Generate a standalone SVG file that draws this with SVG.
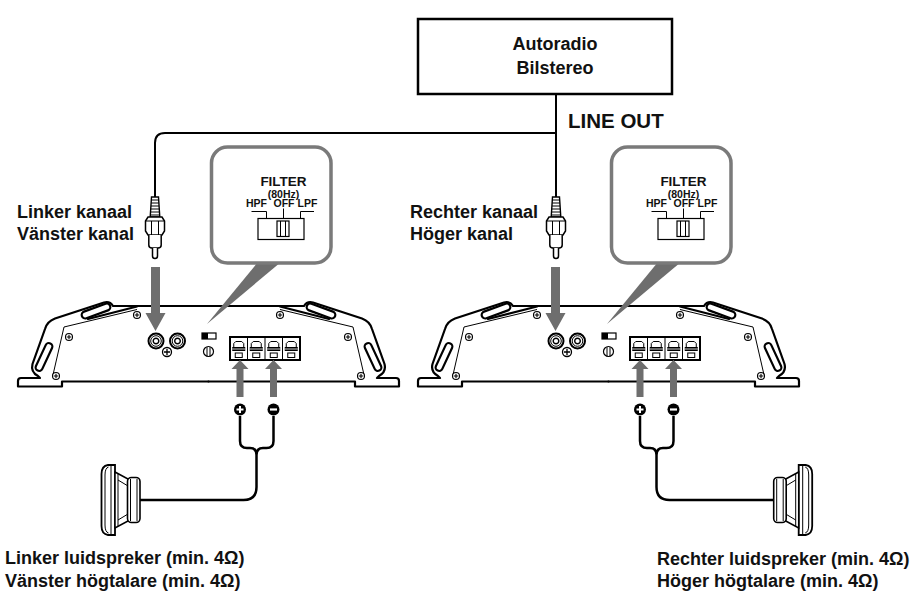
<svg xmlns="http://www.w3.org/2000/svg" xmlns:xlink="http://www.w3.org/1999/xlink" width="913" height="591" viewBox="0 0 913 591">
<style>
.k{fill:none;stroke:#000;stroke-width:2.2;stroke-linejoin:round;stroke-linecap:round}
.t{fill:none;stroke:#000;stroke-width:1}
.w{fill:none;stroke:#000;stroke-width:2.5;stroke-linejoin:round}
.c{fill:none;stroke:#000;stroke-width:2}
.g{fill:#6e6e6e}
.lbl{font-family:"Liberation Sans",Arial,sans-serif;font-weight:bold;font-size:18px;fill:#111}
.big{font-size:20.5px}
.f{font-family:"Liberation Sans",Arial,sans-serif;font-weight:bold;fill:#111;text-anchor:middle}
.cb{fill:#fff;stroke:#7a7a7a;stroke-width:3.5}
</style>
<defs>
<g id="scr"><circle r="3.5" fill="#fff" stroke="#000" stroke-width="1.1"/><path d="M-2.3,0H2.3M0,-2.3V2.3" stroke="#000" stroke-width="1.1"/></g>
<g id="jack"><circle r="7.5" fill="#fff" stroke="#000" stroke-width="2"/><circle r="5.3" class="t"/><circle r="2.8" fill="none" stroke="#000" stroke-width="1.4"/></g>
<g id="term">
<path d="M-5,347 V343.5 L-3,341.5 H3 L5,343.5 V347" class="t"/>
<rect x="-6.5" y="347" width="13" height="4" fill="#000"/>
<line x1="-6.5" y1="349" x2="6.5" y2="349" stroke="#fff" stroke-width="0.8"/>
<rect x="-3.5" y="353" width="7" height="4.5" class="t"/>
</g>
<g id="amp-half">
<path class="k" fill="#fff" d="M208.5,306 H113 Q110,301 104,302.5 L55,318.5 Q47,321.5 45,329 L32.5,364 Q30.5,372 38,376 L40,378 H21 Q18,378 18,381 V386.5 H62 V381.5 H208.5"/>
<path class="k" d="M137,306.5 L88,319"/>
<rect x="81" y="307.5" width="30" height="7" rx="3.5" class="k" transform="rotate(-20 96 311)"/>
<rect x="29" y="353.5" width="30" height="7" rx="3.5" class="k" transform="rotate(-65 44 357)"/>
<path class="t" d="M137,309.5 L64,327 L52.5,377"/>
<use xlink:href="#scr" x="137" y="315"/>
<use xlink:href="#scr" x="69" y="337"/>
<use xlink:href="#scr" x="56" y="376"/>
</g>
<g id="amp">
<use xlink:href="#amp-half"/>
<use xlink:href="#amp-half" transform="translate(417,0) scale(-1,1)"/>
<use xlink:href="#jack" x="156" y="341"/>
<use xlink:href="#jack" x="177.5" y="341"/>
<g transform="translate(167,352)"><circle r="4.5" fill="#fff" stroke="#000" stroke-width="1.3"/><path d="M-3,0H3M0,-3V3" stroke="#000" stroke-width="1.3"/></g>
<rect x="202" y="333" width="14" height="6" fill="#fff" stroke="#000" stroke-width="1.2"/>
<rect x="202" y="333" width="6" height="6" fill="#000"/>
<circle cx="208.5" cy="351.5" r="5" fill="#fff" stroke="#000" stroke-width="1.2"/>
<path d="M207,347 V356.3 M210,347 V356.3" class="t"/>
<rect x="230" y="337" width="70" height="23" fill="#fff" stroke="#000" stroke-width="2"/>
<path d="M247.5,337V360M265,337V360M282.5,337V360" class="t"/>
<use xlink:href="#term" x="238.75"/>
<use xlink:href="#term" x="256.25"/>
<use xlink:href="#term" x="273.75"/>
<use xlink:href="#term" x="291.25"/>
</g>
<g id="plug">
<path d="M-3.5,0 H3.5 L4.8,20 H-4.8 Z" fill="#fff" stroke="#000" stroke-width="1.4"/>
<path d="M-3.6,3H3.6M-3.8,6H3.8M-4,9H4M-4.2,12H4.2M-4.4,15H4.4M-4.6,18H4.6" class="t"/>
<polygon points="-7,20 7,20 9.5,24 9.5,34 7,38 -7,38 -9.5,34 -9.5,24" fill="#fff" stroke="#000" stroke-width="1.5"/>
<path d="M-9.5,24H9.5M-3.5,24V38M3.5,24V38" class="t"/>
<path d="M-6.2,38 V48 Q-6.2,51 -3,51 H3 Q6.2,51 6.2,48 V38" fill="#fff" stroke="#000" stroke-width="1.5"/>
<path d="M-2.5,51 V59 Q-2.5,61.5 0,61.5 Q2.5,61.5 2.5,59 V51" fill="#fff" stroke="#000" stroke-width="1.5"/>
</g>
<g id="filt">
<polygon class="g" points="258,262 281,262 207,324"/>
<rect x="211.5" y="147" width="119.5" height="116" rx="16" class="cb"/>
<text x="283.5" y="185.5" class="f" font-size="13.5">FILTER</text>
<text x="283.5" y="197.5" class="f" font-size="10.5">(80Hz)</text>
<text x="256.5" y="207" class="f" font-size="10.5">HPF</text>
<text x="284" y="207" class="f" font-size="10.5">OFF</text>
<text x="307.5" y="207" class="f" font-size="10.5">LPF</text>
<path d="M251.5,211.5 H266.5 V218.5 M283.5,208.5 V218.5 M300.5,218.5 V211.5 H314" class="t"/>
<rect x="258" y="218.5" width="46" height="21" fill="#fff" stroke="#000" stroke-width="1.2"/>
<rect x="277" y="221" width="12" height="15.5" fill="#fff" stroke="#000" stroke-width="1.2"/>
<path d="M280.5,221V236.5M285.5,221V236.5" class="t"/>
</g>
<g id="spk">
<path d="M115,465 H108 Q101.5,466 101.5,474 V526 Q101.5,534 108,535 H115 Z" fill="#fff" stroke="#000" stroke-width="1.8"/>
<path d="M108.5,467 Q105,468 105,475 V525 Q105,532 108.5,533" class="t"/>
<line x1="111" y1="466" x2="111" y2="534" class="t"/>
<path d="M115,472 L128,479 V521 L115,528 Z" fill="#fff" stroke="#000" stroke-width="1.5"/>
<path d="M118,474 V526 M118,480 L128,486 M118,520 L128,514" class="t"/>
<rect x="127.5" y="477.5" width="12.5" height="45" rx="4" fill="#fff" stroke="#000" stroke-width="1.6"/>
<path d="M130.5,479V521M137,479V521" class="t"/>
</g>
<g id="plus"><circle r="6" fill="#000"/><path d="M-3.5,0H3.5M0,-3.5V3.5" stroke="#fff" stroke-width="2"/></g>
<g id="minus"><circle r="6" fill="#000"/><path d="M-3.5,0H3.5" stroke="#fff" stroke-width="2.2"/></g>
</defs>

<g id="amp-left"><use xlink:href="#amp"/></g>
<g id="amp-right"><use xlink:href="#amp" x="400"/></g>

<g id="car-radio">
<rect x="418" y="19" width="254" height="75" fill="#fff" stroke="#000" stroke-width="2.5"/>
<text x="555" y="50" class="lbl" text-anchor="middle">Autoradio</text>
<text x="555" y="74" class="lbl" text-anchor="middle">Bilstereo</text>
</g>

<g id="connectors">
<path class="c" d="M556,94 V197"/>
<path class="c" d="M556,133 H165 Q155,133 155,143 V197"/>
<polygon class="g" points="151,267 160,267 160,313 165.5,313 155.5,331 145.5,313 151,313"/>
<polygon class="g" points="551,267 560,267 560,313 565.5,313 555.5,331 545.5,313 551,313"/>
<polygon class="g" points="236.5,397 243.5,397 243.5,369 248.5,369 240,360 231.5,369 236.5,369"/>
<polygon class="g" points="270,397 277,397 277,369 282,369 273.5,360 265,369 270,369"/>
<polygon class="g" points="636.5,397 643.5,397 643.5,369 648.5,369 640,360 631.5,369 636.5,369"/>
<polygon class="g" points="670,397 677,397 677,369 682,369 673.5,360 665,369 670,369"/>
<path class="w" d="M240,416 V441 Q240,448 247,448 H250 Q256.5,448 256.5,455 M273.5,416 V441 Q273.5,448 266.5,448 H263 Q256.5,448 256.5,455 V487 Q256.5,500 243.5,500 H140"/>
<path class="w" d="M640,416 V441 Q640,448 647,448 H650 Q656.5,448 656.5,455 M673.5,416 V441 Q673.5,448 666.5,448 H663 Q656.5,448 656.5,455 V487 Q656.5,500 669.5,500 H773.7"/>
</g>

<g id="plug-left"><use xlink:href="#plug" x="155" y="197"/></g>
<g id="plug-right"><use xlink:href="#plug" x="556" y="197"/></g>

<g id="terminals-left"><use xlink:href="#plus" x="240" y="409.5"/><use xlink:href="#minus" x="273.5" y="409.5"/></g>
<g id="terminals-right"><use xlink:href="#plus" x="640" y="409.5"/><use xlink:href="#minus" x="673.5" y="409.5"/></g>

<g id="filter-left"><use xlink:href="#filt"/></g>
<g id="filter-right"><use xlink:href="#filt" x="400"/></g>

<g id="speaker-left"><use xlink:href="#spk"/></g>
<g id="speaker-right"><use xlink:href="#spk" transform="translate(913.7,0) scale(-1,1)"/></g>

<g id="labels">
<text x="568" y="128" class="lbl big">LINE OUT</text>
<text x="17" y="218" class="lbl">Linker kanaal</text>
<text x="17" y="240" class="lbl">Vänster kanal</text>
<text x="410" y="218" class="lbl">Rechter kanaal</text>
<text x="410" y="240" class="lbl">Höger kanal</text>
<text x="5" y="564" class="lbl">Linker luidspreker (min. 4Ω)</text>
<text x="5" y="587" class="lbl">Vänster högtalare (min. 4Ω)</text>
<text x="657" y="565" class="lbl">Rechter luidspreker (min. 4Ω)</text>
<text x="657" y="587" class="lbl">Höger högtalare (min. 4Ω)</text>
</g>
</svg>
